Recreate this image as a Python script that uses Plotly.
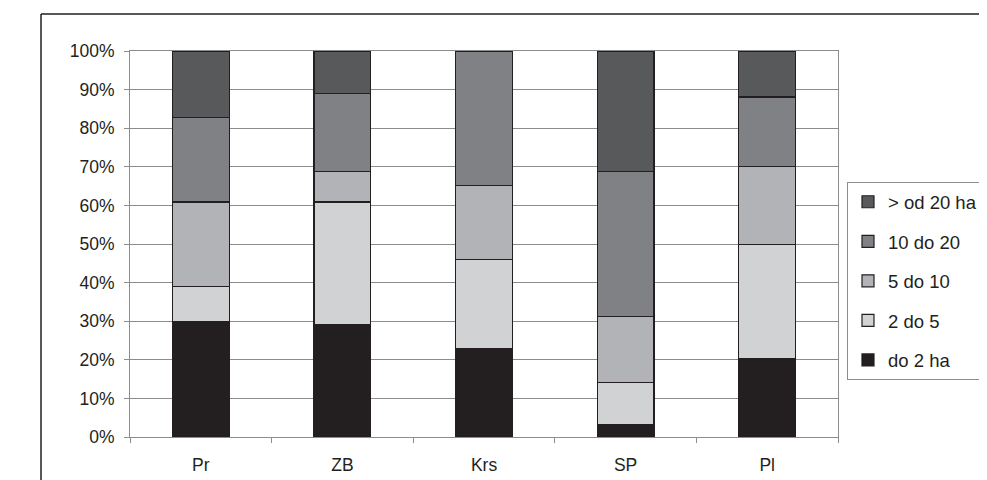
import plotly.graph_objects as go

categories = ["Pr", "ZB", "Krs", "SP", "Pl"]
series_names = ["do 2 ha", "2 do 5", "5 do 10", "10 do 20", "> od 20 ha"]
do_2 = [30, 29, 23, 3.3, 20.2]
od_2_do_5 = [8.9, 31.9, 22.9, 10.9, 29.7]
od_5_do_10 = [22.0, 7.8, 19.3, 17.0, 20.1]
od_10_do_20 = [21.9, 20.2, 34.8, 37.5, 18.1]
nad_20 = [17.2, 11.1, 0.0, 31.3, 11.9]
values = [do_2, od_2_do_5, od_5_do_10, od_10_do_20, nad_20]
colors = ["#231f20", "#d1d2d4", "#b2b3b6", "#808184", "#58595b"]
y_ticks = list(range(0, 101, 10))
y_tick_labels = [f"{v}%" for v in y_ticks]

fig = go.Figure()
n = len(series_names)
for i, (name, vals, col) in enumerate(zip(series_names, values, colors)):
    fig.add_trace(go.Bar(
        x=categories, y=vals, name=name, legendgroup=f"g{i}", legendrank=n - i,
        marker=dict(color=col, line=dict(color="#231f20", width=1.2)),
    ))

FONT = "Liberation Sans, Arial, sans-serif"
axis_font = dict(family=FONT, size=17.5, color="#231f20")
# page body has an 8px default margin, so the figure is made 8px smaller
fig.update_layout(
    barmode="stack",
    bargap=0.6,
    width=979, height=472,
    margin=dict(l=122, r=149, t=43, b=43, autoexpand=False),
    paper_bgcolor="white",
    plot_bgcolor="white",
    font=axis_font,
    showlegend=True,
    legend=dict(
        x=1.0127, y=0.66, xanchor="left", yanchor="top",
        traceorder="grouped", tracegroupgap=12.5,
        bordercolor="#8c8c8c", borderwidth=1,
        font=dict(family=FONT, size=18.5, color="#231f20"),
        itemwidth=30,
    ),
    xaxis=dict(
        showgrid=False, showline=True, linecolor="#8c8c8c", linewidth=1, mirror=True,
        ticks="outside", tickson="boundaries", ticklen=5, tickcolor="#8c8c8c",
        tickfont=axis_font, ticklabelstandoff=12,
    ),
    yaxis=dict(
        range=[0, 100], tickvals=y_ticks, ticktext=y_tick_labels,
        showgrid=True, gridcolor="#8c8c8c", gridwidth=1,
        showline=True, linecolor="#8c8c8c", linewidth=1, mirror=True,
        ticks="outside", ticklen=5, tickcolor="#8c8c8c",
        tickfont=axis_font, zeroline=False, ticklabelstandoff=6,
    ),
)

# outer figure frame (top and left edges)
fig.add_shape(type="line", xref="paper", yref="paper", x0=-0.1257, x1=1.3, y0=1.0959, y1=1.0959,
              line=dict(color="#231f20", width=1.5))
fig.add_shape(type="line", xref="paper", yref="paper", x0=-0.1257, x1=-0.1257, y0=1.0959, y1=-0.2,
              line=dict(color="#231f20", width=1.5))

fig.write_html("out.html")
